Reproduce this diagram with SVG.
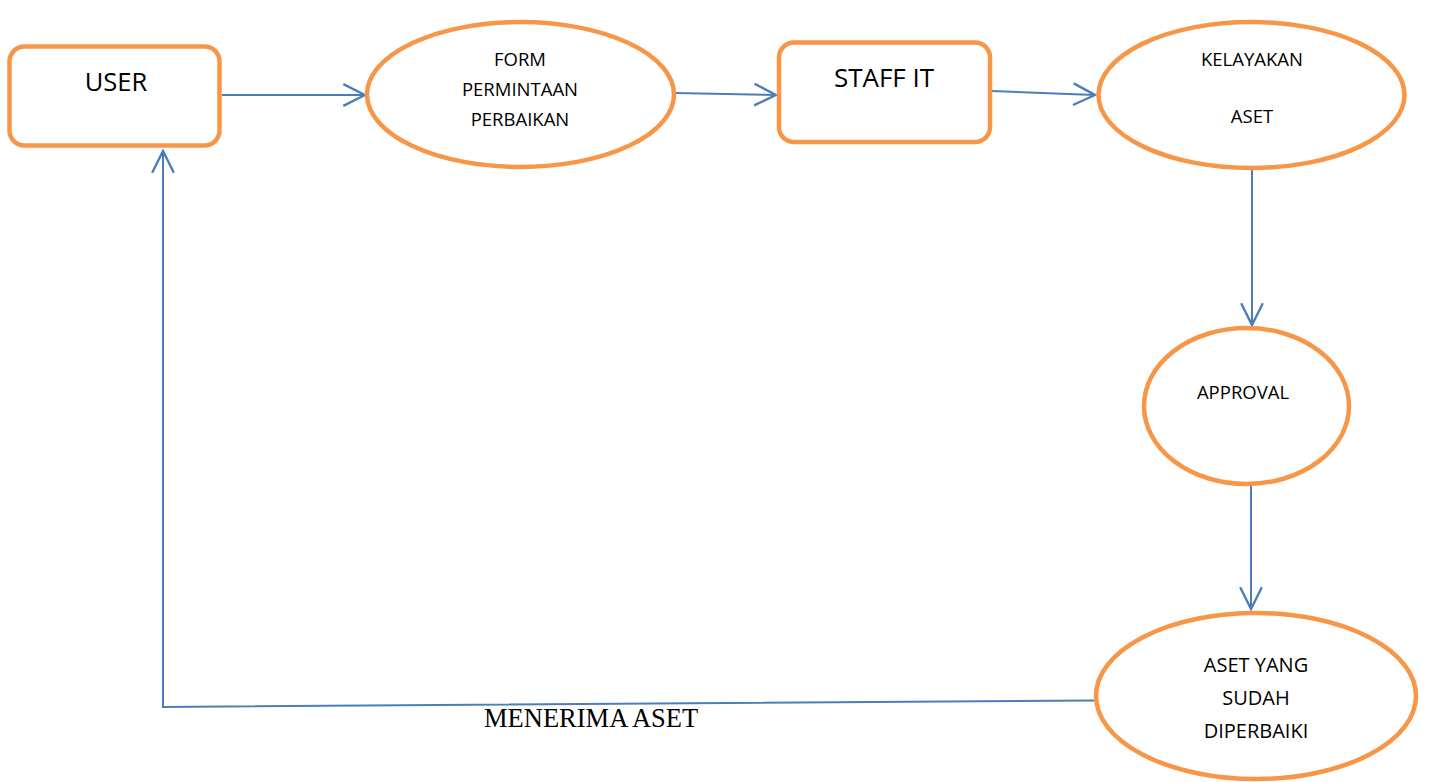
<svg xmlns="http://www.w3.org/2000/svg" width="1429" height="782" viewBox="0 0 1429 782">
  <style>
    .box { fill: #ffffff; stroke: #F79646; stroke-width: 4.5; }
    .lbl { font-family: "Open Sans", "Liberation Sans", sans-serif; fill: #000000; text-anchor: middle; }
    .edge { fill: none; stroke: #4A7EBB; stroke-width: 2; }
    .cap { font-family: "Liberation Serif", serif; font-size: 26.5px; fill: #000000; }
  </style>
  <defs>
    <marker id="open-arrow" markerUnits="userSpaceOnUse" markerWidth="26" markerHeight="26" viewBox="-22 -12 24 24" refX="0" refY="0" orient="auto">
      <path d="M -20 -10 L 0 0 L -20 10" fill="none" stroke="#4A7EBB" stroke-width="2.2"/>
    </marker>
  </defs>

  <rect width="1429" height="782" fill="#ffffff"/>

  <g id="connectors">
    <line class="edge" x1="222" y1="95" x2="365" y2="95" marker-end="url(#open-arrow)"/>
    <line class="edge" x1="675" y1="93" x2="776" y2="95" marker-end="url(#open-arrow)"/>
    <line class="edge" x1="992" y1="91" x2="1095" y2="95" marker-end="url(#open-arrow)"/>
    <line class="edge" x1="1252" y1="170" x2="1252" y2="325" marker-end="url(#open-arrow)"/>
    <line class="edge" x1="1251" y1="486" x2="1251" y2="609" marker-end="url(#open-arrow)"/>
    <polyline class="edge" points="1094,700.5 163,707 163,151" marker-end="url(#open-arrow)"/>
    <text class="cap" x="484" y="727">MENERIMA ASET</text>
  </g>

  <g id="user">
    <rect class="box" x="9.5" y="46.5" width="210" height="99" rx="15" ry="15"/>
    <text class="lbl" x="116" y="91" font-size="25.5">USER</text>
  </g>

  <g id="form-permintaan">
    <ellipse class="box" cx="520.5" cy="94.5" rx="153.5" ry="72.5"/>
    <text class="lbl" x="520" y="66" font-size="18.5">FORM</text>
    <text class="lbl" x="520" y="96" font-size="18.5">PERMINTAAN</text>
    <text class="lbl" x="520" y="126" font-size="18.5">PERBAIKAN</text>
  </g>

  <g id="staff-it">
    <rect class="box" x="779" y="42.5" width="211" height="99.5" rx="15" ry="15"/>
    <text class="lbl" x="884" y="87" font-size="26">STAFF IT</text>
  </g>

  <g id="kelayakan-aset">
    <ellipse class="box" cx="1251.5" cy="95" rx="153" ry="73"/>
    <text class="lbl" x="1252" y="66" font-size="18.5">KELAYAKAN</text>
    <text class="lbl" x="1252" y="122.5" font-size="18.5">ASET</text>
  </g>

  <g id="approval">
    <ellipse class="box" cx="1246.5" cy="406" rx="102.5" ry="78"/>
    <text class="lbl" x="1243" y="399" font-size="18.5">APPROVAL</text>
  </g>

  <g id="aset-diperbaiki">
    <ellipse class="box" cx="1256" cy="696" rx="160" ry="83"/>
    <text class="lbl" x="1256" y="672" font-size="20">ASET YANG</text>
    <text class="lbl" x="1256" y="705" font-size="20">SUDAH</text>
    <text class="lbl" x="1256" y="738" font-size="20">DIPERBAIKI</text>
  </g>
</svg>
